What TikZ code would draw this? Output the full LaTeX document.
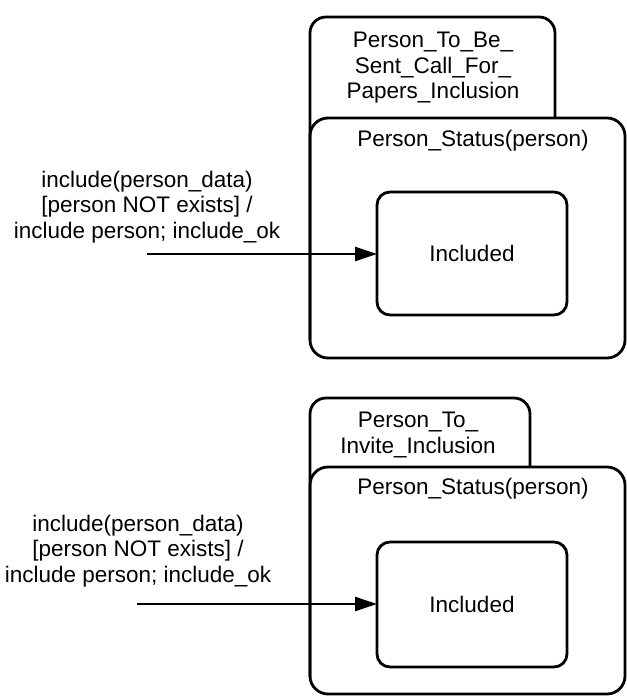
\documentclass[tikz,border=0pt]{standalone}
\usepackage{fontspec}
\setmainfont{Liberation Sans}
\usetikzlibrary{arrows.meta}
\begin{document}
\begin{tikzpicture}[x=1pt,y=-1pt,
  every node/.style={font=\fontsize{22.5}{25.5}\selectfont, inner sep=0pt},
  statebox/.style={draw, line width=2.8pt, outer sep=0pt, rounded corners=#1},
  outline/.style={line width=2.8pt, rounded corners=16pt},
  trans/.style={line width=2.5pt, -{Triangle[length=22pt,width=14pt]}},
  caption/.style={align=center}]
\fill[white] (0,0) rectangle (626,700);
\useasboundingbox (0,0) rectangle (626,700);

% ---- upper diagram ----
\draw[outline] (310,340) -- (310,17) -- (555,17) -- (555,118);
\node[caption] (cfp) at (433,68) {Person\_To\_Be\_\\Sent\_Call\_For\_\\Papers\_Inclusion};
\node[statebox=18pt, minimum width=315pt, minimum height=240pt, anchor=north west] (ps1) at (310,118) {};
\node (ps1t) at (473,141) {Person\_Status(person)};
\node[statebox=13pt, minimum width=190pt, minimum height=123pt, anchor=north west] (inc1) at (377,192) {Included};
\node[caption] (lab1) at (147,207) {include(person\_data)\\{}[person NOT exists] /\\include person; include\_ok};
\coordinate (s1) at (147,254);
\draw[trans] (s1) -- (s1 -| inc1.west);

% ---- lower diagram ----
\draw[outline] (310,677) -- (310,398) -- (530,398) -- (530,467);
\node[caption] (inv) at (418,435) {Person\_To\_\\Invite\_Inclusion};
\node[statebox=18pt, minimum width=315pt, minimum height=227pt, anchor=north west] (ps2) at (310,467) {};
\node (ps2t) at (473,489) {Person\_Status(person)};
\node[statebox=13pt, minimum width=190pt, minimum height=125pt, anchor=north west] (inc2) at (377,542) {Included};
\node[caption] (lab2) at (138,551) {include(person\_data)\\{}[person NOT exists] /\\include person; include\_ok};
\coordinate (s2) at (137,604);
\draw[trans] (s2) -- (s2 -| inc2.west);
\end{tikzpicture}
\end{document}
